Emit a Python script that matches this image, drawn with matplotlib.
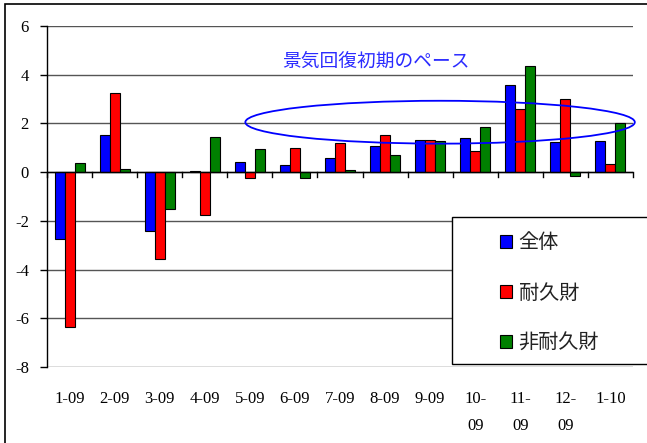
import matplotlib.pyplot as plt
import numpy as np
from matplotlib.patches import Ellipse, Rectangle

months = ['1-09', '2-09', '3-09', '4-09', '5-09', '6-09', '7-09', '8-09', '9-09',
          '10-\n09', '11-\n09', '12-\n09', '1-10']
total = [-2.75, 1.52, -2.43, 0.04, 0.43, 0.30, 0.57, 1.08, 1.31, 1.39, 3.58, 1.24, 1.27]
durable = [-6.34, 3.24, -3.57, -1.76, -0.25, 0.98, 1.19, 1.52, 1.31, 0.86, 2.58, 2.99, 0.33]
nondurable = [0.37, 0.12, -1.50, 1.43, 0.94, -0.26, 0.08, 0.72, 1.28, 1.84, 4.37, -0.15, 2.02]
series_names = ['全体', '耐久財', '非耐久財']
note = '景気回復初期のペース'

jp = ['Noto Sans CJK JP', 'DejaVu Sans']
serif = 'Liberation Serif'

fig = plt.figure(figsize=(6.47, 4.43), dpi=100)
ax = fig.add_axes([47 / 647, 1 - 367 / 443, 586 / 647, 341 / 443])

x = np.arange(len(months))
w = 0.222
colors = ['#0000ff', '#ff0000', '#008000']
handles = []
for i, (vals, c) in enumerate(zip([total, durable, nondurable], colors)):
    b = ax.bar(x + (i - 1) * w, vals, w, color=c, edgecolor='black', linewidth=0.8, zorder=3)
    handles.append(b)

ax.set_xlim(-0.5, len(months) - 0.5)
ax.set_ylim(-8, 6)
ax.set_yticks(range(-8, 7, 2))
ax.set_yticklabels([str(v) for v in range(-8, 7, 2)], fontfamily=serif, fontsize=12)
ax.yaxis.grid(True, color='#555555', linewidth=1.0, zorder=0)
for s in ['top', 'right', 'bottom']:
    ax.spines[s].set_visible(False)
ax.spines['left'].set_linewidth(1.0)
ax.tick_params(axis='y', length=5, width=1, pad=8)

# category axis at zero with boundary ticks
ax.axhline(0, color='black', linewidth=1.0, zorder=4)
for b in np.arange(-0.5, len(months), 1.0):
    ax.plot([b, b], [0, -0.2], color='black', linewidth=1.0, zorder=4, clip_on=False)
ax.set_xticks([])
for xi, lab in zip(x, months):
    ax.text(xi, -9.0, lab, ha='center', va='top', fontfamily=serif, fontsize=12,
            linespacing=1.85)

# annotation
ax.text(6.8, 4.55, note, color='#2b2bff', fontsize=13.5, fontfamily=jp,
        ha='center', va='center')
ax.add_patch(Ellipse((8.22, 2.05), 8.64, 1.76, fill=False, edgecolor='#0000ff',
                     linewidth=1.3, zorder=5, clip_on=False))

# legend box
ax.add_patch(Rectangle((452 / 647, 1 - 364 / 443), 0.5, 147 / 443, facecolor='white',
                       edgecolor='black', linewidth=1.0, transform=fig.transFigure,
                       zorder=9, clip_on=False))
leg = ax.legend(handles, series_names, loc='center left',
                bbox_to_anchor=(500 / 647, 1 - 293 / 443),
                bbox_transform=fig.transFigure,
                prop={'family': jp, 'size': 14.5}, frameon=False,
                handlelength=0.62, handleheight=0.62,
                handletextpad=0.3, labelspacing=1.45, borderpad=0,
                borderaxespad=0)
leg.set_zorder(10)
for t in leg.get_texts():
    t.set_color('#222222')

# outer chart frame
fig.patches.append(Rectangle((5 / 647, -0.1), 1.2, 1 - 4 / 443 + 0.1, fill=False,
                             edgecolor='black', linewidth=1.2,
                             transform=fig.transFigure, figure=fig))

fig.savefig('out.png', dpi=100)
